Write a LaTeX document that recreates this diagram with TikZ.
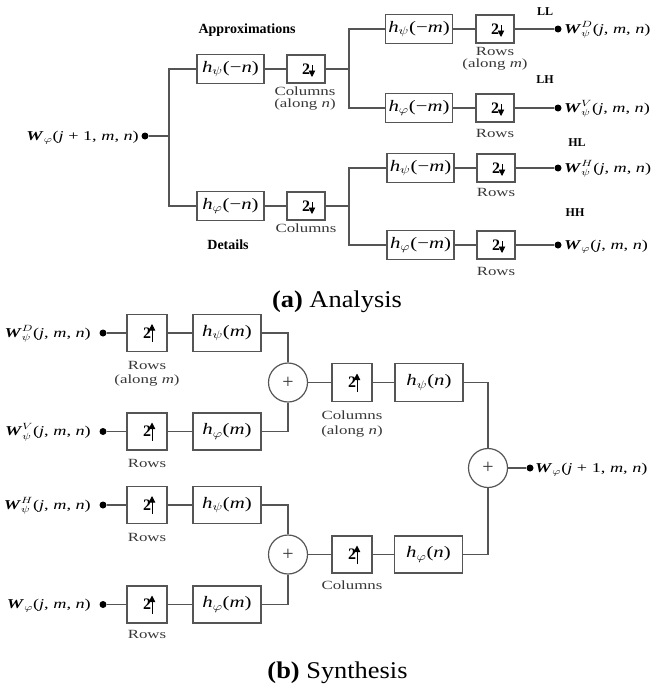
\documentclass[tikz,border=0pt]{standalone}
\usepackage{amsmath}
\usepackage{graphicx}
\usepackage{fontspec}
\setmainfont{Liberation Serif}
\newfontfamily\notefont{Liberation Serif}[FakeStretch=1.35]
\newfontfamily\capfont{Liberation Serif}[FakeStretch=1.1]
\usetikzlibrary{arrows.meta}

\definecolor{wirec}{RGB}{85,85,85}
\definecolor{notec}{RGB}{55,55,55}

% signal names: bold italic W with script and argument list, set wide
\newcommand\bw{\text{\textbf{\textit{W}}}}
\newcommand\wsig[2]{\scalebox{1.35}[1]{$\bw#1$#2}}
\newcommand\jmn{(\textit{j}, \textit{m}, \textit{n})}
\newcommand\jpmn{(\textit{j} + 1, \textit{m}, \textit{n})}
% filter names h with a Greek subscript
\newcommand\hf[2]{\scalebox{1.3}[1]{\textit{h}$_{#1}$(#2)}}
% the "2" of a rate changer; its arrow is drawn separately
\newcommand\two{\textbf{2}\hspace{10pt}}
\newcommand\sampdown[1]{\draw[samptip] ([xshift=6pt,yshift=4pt]#1.center) -- ([xshift=6pt,yshift=-8pt]#1.center);}
\newcommand\sampup[1]{\draw[samptip] ([xshift=5pt,yshift=-9pt]#1.center) -- ([xshift=5pt,yshift=9pt]#1.center);}

\tikzset{
  wire/.style={draw=wirec, line width=1.2pt},
  blk/.style={draw=wirec, line width=1.2pt, rectangle, inner sep=0pt, font=\fontsize{16}{18}\selectfont},
  afilt/.style={blk, minimum width=67pt, minimum height=29pt},
  asamp/.style={blk, minimum width=38pt, minimum height=28pt},
  sfilt/.style={blk, minimum width=68pt, minimum height=37pt},
  ssamp/.style={blk, minimum width=40pt, minimum height=37pt},
  sdot/.style={circle, fill=black, inner sep=0pt, minimum size=7pt},
  adder/.style={circle, draw=wirec, line width=1.2pt, minimum size=39pt, inner sep=0pt, text=notec, font=\fontsize{20}{22}\selectfont},
  signame/.style={inner sep=0pt, font=\fontsize{13.5}{15}\selectfont},
  note/.style={inner sep=0pt, text=notec, font=\notefont\fontsize{12.5}{14}\selectfont},
  band/.style={inner sep=0pt, font=\bfseries\fontsize{14}{16}\selectfont},
  bandsub/.style={inner sep=0pt, font=\bfseries\fontsize{12}{14}\selectfont},
  capt/.style={inner sep=0pt, anchor=base, font=\capfont\fontsize{24}{28}\selectfont},
  samptip/.style={draw=black, line width=0.9pt, -{Triangle[width=6.5pt,length=6.5pt]}},
}

\begin{document}
\begin{tikzpicture}[x=1pt,y=-1pt]
\useasboundingbox (0,0) rectangle (658,688);

% ---------------- analysis bank ----------------
\node[signame, anchor=base east] (ain) at (139,140) {\wsig{_{\varphi}}{\jpmn}};
\node[sdot] (adot) at (145,136) {};
\coordinate (j1) at (169,136);

\node[afilt] (a1) at (230.5,69) {\hf{\psi}{−\textit{n}}};
\node[asamp] (a2) at (306,69) {\two};
\node[afilt] (b1) at (230.5,206) {\hf{\varphi}{−\textit{n}}};
\node[asamp] (b2) at (306,206) {\two};
\coordinate (j2) at (349,69);
\coordinate (j3) at (349,206);

\node[afilt] (r1f) at (419,29) {\hf{\psi}{−\textit{m}}};
\node[asamp] (r1s) at (495,29) {\two};
\node[sdot] (r1d) at (558,29) {};
\node[signame, anchor=base west] (r1t) at (564,33) {\wsig{^{D}_{\psi}}{\jmn}};

\node[afilt] (r2f) at (419,108) {\hf{\varphi}{−\textit{m}}};
\node[asamp] (r2s) at (495,108) {\two};
\node[sdot] (r2d) at (558,108) {};
\node[signame, anchor=base west] (r2t) at (564,112) {\wsig{^{V}_{\psi}}{\jmn}};

\node[afilt] (r3f) at (420.5,168) {\hf{\psi}{−\textit{m}}};
\node[asamp] (r3s) at (496,168) {\two};
\node[sdot] (r3d) at (558,168) {};
\node[signame, anchor=base west] (r3t) at (564,172) {\wsig{^{H}_{\psi}}{\jmn}};

\node[afilt] (r4f) at (420.5,245) {\hf{\varphi}{−\textit{m}}};
\node[asamp] (r4s) at (496,245) {\two};
\node[sdot] (r4d) at (558,245) {};
\node[signame, anchor=base west] (r4t) at (564,249) {\wsig{_{\varphi}}{\jmn}};

\foreach \b in {a2,b2,r1s,r2s,r3s,r4s} {\sampdown{\b}}

\draw[wire] (adot) -- (j1);
\draw[wire] (a1.west) -| (j1) |- (b1.west);
\draw[wire] (a1) -- (a2);
\draw[wire] (b1) -- (b2);
\draw[wire] (a2) -- (j2);
\draw[wire] (b2) -- (j3);
\draw[wire] (r1f.west) -| (j2) |- (r2f.west);
\draw[wire] (r3f.west) -| (j3) |- (r4f.west);
\foreach \r in {1,2,3,4} {
  \draw[wire] (r\r f) -- (r\r s);
  \draw[wire] (r\r s) -- (r\r d);
}

\node[band] (approx) at (247,30) {Approximations};
\node[band] (details) at (228,245) {Details};
\node[bandsub] (ll) at (545,12) {LL};
\node[bandsub] (lh) at (545,80) {LH};
\node[bandsub] (hl) at (577,143) {HL};
\node[bandsub] (hh) at (575,213) {HH};

\node[note] (n1) at (305,91) {Columns};
\node[note] (n2) at (305,105) {(along \textit{n})};
\node[note] (n3) at (306,228) {Columns};
\node[note] (n4) at (495,51) {Rows};
\node[note] (n5) at (495,65) {(along \textit{m})};
\node[note] (n6) at (495,133) {Rows};
\node[note] (n7) at (496,192) {Rows};
\node[note] (n8) at (496,271) {Rows};

\node[capt] (capa) at (337,307) {\textbf{(a)} Analysis};

% ---------------- synthesis bank ----------------
\node[signame, anchor=base east] (i1t) at (91,337) {\wsig{^{D}_{\psi}}{\jmn}};
\node[sdot] (i1d) at (103,333) {};
\node[ssamp] (s1) at (147,333) {\two};
\node[sfilt] (s2) at (227,333) {\hf{\psi}{\textit{m}}};

\node[signame, anchor=base east] (i2t) at (91,435.5) {\wsig{^{V}_{\psi}}{\jmn}};
\node[sdot] (i2d) at (103,431.5) {};
\node[ssamp] (s3) at (147,431.5) {\two};
\node[sfilt] (s4) at (227,431.5) {\hf{\varphi}{\textit{m}}};

\node[signame, anchor=base east] (i3t) at (91,509) {\wsig{^{H}_{\psi}}{\jmn}};
\node[sdot] (i3d) at (103,505) {};
\node[ssamp] (s7) at (147,505) {\two};
\node[sfilt] (s8) at (227,505) {\hf{\psi}{\textit{m}}};

\node[signame, anchor=base east] (i4t) at (91,608.5) {\wsig{_{\varphi}}{\jmn}};
\node[sdot] (i4d) at (103,604.5) {};
\node[ssamp] (s9) at (147,604.5) {\two};
\node[sfilt] (s10) at (227,604.5) {\hf{\varphi}{\textit{m}}};

\node[adder] (c1) at (288,382.5) {+};
\node[adder] (c3) at (288,554.5) {+};
\node[ssamp, minimum height=38pt] (s5) at (352,382.5) {\two};
\node[sfilt, minimum height=38pt] (s6) at (429,382.5) {\hf{\psi}{\textit{n}}};
\node[ssamp] (s11) at (352,554.5) {\two};
\node[sfilt] (s12) at (428.5,554.5) {\hf{\varphi}{\textit{n}}};
\node[adder] (c2) at (488,468) {+};
\node[sdot] (od) at (530,468) {};
\node[signame, anchor=base west] (ot) at (535,472) {\wsig{_{\varphi}}{\jpmn}};

\foreach \b in {s1,s3,s7,s9,s5,s11} {\sampup{\b}}

\draw[wire] (i1d) -- (s1);  \draw[wire] (s1) -- (s2);
\draw[wire] (i2d) -- (s3);  \draw[wire] (s3) -- (s4);
\draw[wire] (i3d) -- (s7);  \draw[wire] (s7) -- (s8);
\draw[wire] (i4d) -- (s9);  \draw[wire] (s9) -- (s10);
\draw[wire] (s2.east) -| (c1.north);
\draw[wire] (s4.east) -| (c1.south);
\draw[wire] (s8.east) -| (c3.north);
\draw[wire] (s10.east) -| (c3.south);
\draw[wire] (c1) -- (s5);  \draw[wire] (s5) -- (s6);
\draw[wire] (c3) -- (s11); \draw[wire] (s11) -- (s12);
\draw[wire] (s6.east) -| (c2.north);
\draw[wire] (s12.east) -| (c2.south);
\draw[wire] (c2) -- (od);

\node[note] (m1) at (147,365) {Rows};
\node[note] (m2) at (147,381) {(along \textit{m})};
\node[note] (m3) at (147,463) {Rows};
\node[note] (m4) at (147,537) {Rows};
\node[note] (m5) at (147,634) {Rows};
\node[note] (m6) at (352,415) {Columns};
\node[note] (m7) at (352,432) {(along \textit{n})};
\node[note] (m8) at (352,585) {Columns};

\node[capt] (capb) at (337.5,678) {\textbf{(b)} Synthesis};
\end{tikzpicture}
\end{document}
